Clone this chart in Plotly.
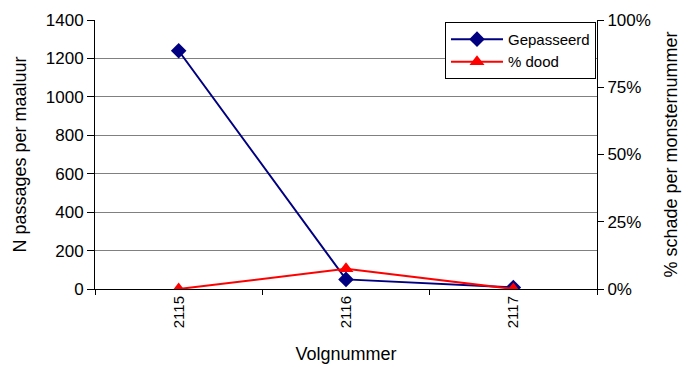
import plotly.graph_objects as go

# Sample numbers along the x-axis
volgnummer = ["2115", "2116", "2117"]
# Passages per pumping hour
gepasseerd = [1240, 50, 8]
# Share of dead fish per sample (%)
pct_dood = [0, 7.5, 0]

font = dict(family="Arial, Liberation Sans, sans-serif", size=17, color="black")

fig = go.Figure()
fig.add_trace(go.Scatter(
    x=volgnummer, y=gepasseerd, name="Gepasseerd", mode="lines+markers",
    line=dict(color="#000080", width=2),
    marker=dict(symbol="diamond", size=12, color="#000080"),
    yaxis="y",
))
fig.add_trace(go.Scatter(
    x=volgnummer, y=pct_dood, name="% dood", mode="lines+markers",
    line=dict(color="#FF0000", width=2),
    marker=dict(symbol="triangle-up", size=13, color="#FF0000"),
    yaxis="y2",
))

fig.update_layout(
    width=690, height=367,
    margin=dict(l=95, r=93, t=20, b=78),
    paper_bgcolor="white", plot_bgcolor="white",
    font=font,
    showlegend=True,
    legend=dict(
        x=0.998, y=0.993, xanchor="right", yanchor="top",
        bgcolor="white", bordercolor="black", borderwidth=1,
        font=dict(size=15), tracegroupgap=0,
        itemwidth=52,
    ),
    xaxis=dict(
        type="category", range=[-0.5, 2.5], automargin=False,
        tickson="boundaries", ticks="outside", ticklen=5, tickcolor="black",
        tickangle=-90, tickfont=dict(size=15),
        showline=True, linecolor="black", linewidth=1,
        showgrid=False, zeroline=False,
        title=dict(text="Volgnummer", font=dict(size=18), standoff=20),
    ),
    yaxis=dict(
        range=[0, 1400], dtick=200, automargin=False,
        ticks="outside", ticklen=7, tickcolor="black",
        showline=True, linecolor="black", linewidth=1,
        showgrid=True, gridcolor="#808080", gridwidth=1,
        zeroline=False,
        title=dict(text="N passages per maaluur", font=dict(size=18), standoff=14),
    ),
    yaxis2=dict(
        overlaying="y", side="right", automargin=False,
        range=[0, 100], dtick=25, ticksuffix="%",
        ticks="outside", ticklen=6, tickcolor="black",
        showline=True, linecolor="black", linewidth=1,
        showgrid=False, zeroline=False,
        title=dict(text="% schade per monsternummer", font=dict(size=18), standoff=14),
    ),
)

fig.write_html("out.html")
